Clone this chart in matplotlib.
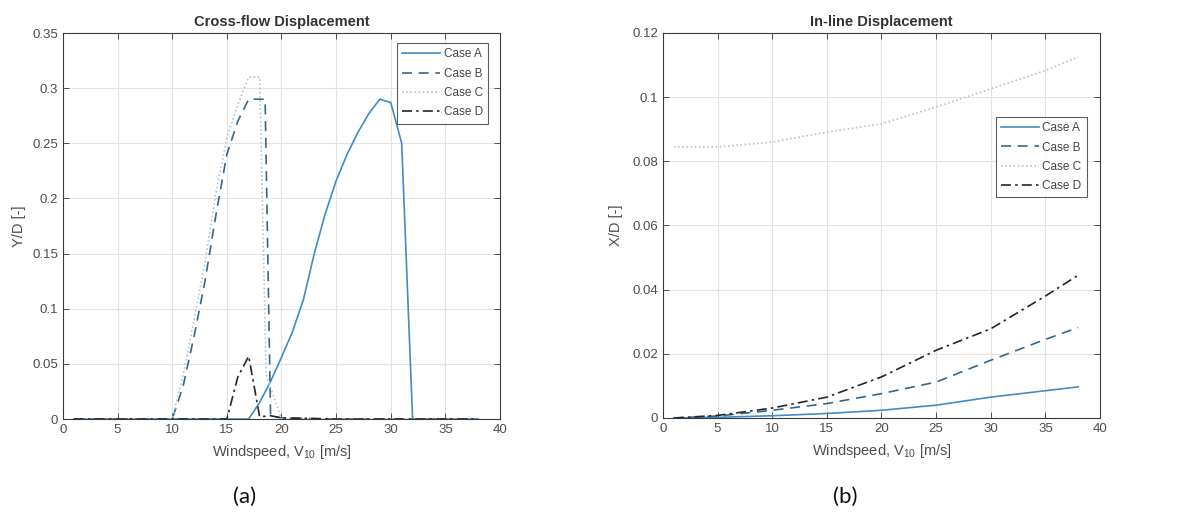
import matplotlib
matplotlib.use("Agg")
import matplotlib.pyplot as plt

plt.rcParams["font.family"] = ["Liberation Sans", "DejaVu Sans"]
plt.rcParams["mathtext.fontset"] = "custom"
plt.rcParams["mathtext.rm"] = "Liberation Sans"
plt.rcParams["mathtext.it"] = "Liberation Sans"

# ---- Cross-flow displacement (Y/D) ----
cf_x_a = [1, 5, 10, 15, 17, 18, 19, 20, 21, 22, 23, 24, 25, 26, 27, 28, 29, 30, 31, 32, 35, 38]
cf_y_a = [0, 0, 0, 0, 0, 0.015, 0.034, 0.056, 0.079, 0.108, 0.15, 0.186, 0.216, 0.24, 0.26, 0.277, 0.29, 0.287, 0.25, 0.0, 0.0, 0.0]

cf_x_b = [1, 5, 10, 11, 12, 13, 14, 15, 16, 17, 18, 18.5, 19, 20, 25, 30, 35, 38]
cf_y_b = [0, 0, 0, 0.03, 0.075, 0.125, 0.185, 0.24, 0.27, 0.29, 0.29, 0.29, 0.003, 0.001, 0, 0, 0, 0]

cf_x_c = [1, 5, 10, 11, 12, 13, 14, 15, 16, 17, 18, 18.6, 20, 25, 30, 35, 38]
cf_y_c = [0, 0, 0, 0.04, 0.09, 0.142, 0.205, 0.255, 0.285, 0.31, 0.31, 0.04, 0, 0, 0, 0, 0]

cf_x_d = [1, 5, 10, 15, 16, 17, 18, 19, 20, 25, 30, 35, 38]
cf_y_d = [0, 0, 0, 0, 0.038, 0.057, 0.002, 0.003, 0.001, 0, 0, 0, 0]

# ---- In-line displacement (X/D) ----
il_x = [1, 5, 10, 15, 20, 25, 30, 35, 38]
il_y_a = [0.0, 0.0002, 0.0007, 0.0014, 0.0024, 0.004, 0.0065, 0.0085, 0.0097]
il_y_b = [0.0, 0.0006, 0.0024, 0.0045, 0.0076, 0.0112, 0.018, 0.0245, 0.0282]
il_y_c = [0.0845, 0.0845, 0.086, 0.0891, 0.0917, 0.0969, 0.1026, 0.1083, 0.1125]
il_y_d = [0.0, 0.0008, 0.0031, 0.0065, 0.0128, 0.0211, 0.0278, 0.038, 0.0445]

case_labels = ["Case A", "Case B", "Case C", "Case D"]
colors = ["#3f8cc8", "#35668e", "#b9c2cc", "#262626"]
styles = ["-", (0, (6, 4)), (0, (1, 1.5)), (0, (6, 2.5, 1.5, 2.5))]

x_ticks = [0, 5, 10, 15, 20, 25, 30, 35, 40]
cf_ticks = [0, 0.05, 0.1, 0.15, 0.2, 0.25, 0.3, 0.35]
cf_ticklabels = ["0", "0.05", "0.1", "0.15", "0.2", "0.25", "0.3", "0.35"]
il_ticks = [0, 0.02, 0.04, 0.06, 0.08, 0.1, 0.12]
il_ticklabels = ["0", "0.02", "0.04", "0.06", "0.08", "0.1", "0.12"]

fig = plt.figure(figsize=(11.79, 5.12), dpi=100)
ax1 = fig.add_axes([0.0534, 0.1816, 0.3707, 0.7539])
ax2 = fig.add_axes([0.5623, 0.1836, 0.3707, 0.7520])

txt_col = "#4d4d4d"


def style_axes(ax, yticks, yticklabels, ylim, title, ylabel, ylabel_x):
    ax.set_xlim(0, 40)
    ax.set_ylim(*ylim)
    ax.set_xticks(x_ticks)
    ax.set_xticklabels([str(t) for t in x_ticks])
    ax.set_yticks(yticks)
    ax.set_yticklabels(yticklabels)
    ax.grid(True, color="#e3e3e3", linewidth=0.8)
    ax.set_axisbelow(True)
    ax.tick_params(direction="in", top=True, right=True, length=4,
                   labelsize=9.5, colors=txt_col, width=0.7)
    for s in ax.spines.values():
        s.set_color("#3a3a3a")
        s.set_linewidth(0.8)
    ax.set_title(title, fontsize=10.5, fontweight="bold", color="#333333", pad=5)
    ax.set_ylabel(ylabel, fontsize=10.5, color=txt_col)
    ax.yaxis.set_label_coords(ylabel_x, 0.5)
    ax.set_xlabel("Windspeed, V$_{10}$ [m/s]", fontsize=10.5, color=txt_col, labelpad=5)


cf_data = [(cf_x_a, cf_y_a), (cf_x_b, cf_y_b), (cf_x_c, cf_y_c), (cf_x_d, cf_y_d)]
for (xs, ys), lab, c, ls in zip(cf_data, case_labels, colors, styles):
    ax1.plot(xs, ys, color=c, linestyle=ls, linewidth=1.2, label=lab)

il_data = [il_y_a, il_y_b, il_y_c, il_y_d]
for ys, lab, c, ls in zip(il_data, case_labels, colors, styles):
    ax2.plot(il_x, ys, color=c, linestyle=ls, linewidth=1.2, label=lab)

style_axes(ax1, cf_ticks, cf_ticklabels, (0, 0.35), "Cross-flow Displacement", "Y/D [-]", -0.085)
style_axes(ax2, il_ticks, il_ticklabels, (0, 0.12), "In-line Displacement", "X/D [-]", -0.092)

leg_kw = dict(fontsize=8.5, frameon=True, fancybox=False, edgecolor="#333333",
              handlelength=3.2, handletextpad=0.3, borderpad=0.45,
              labelspacing=0.62, borderaxespad=0.0)
leg1 = ax1.legend(loc="upper right", bbox_to_anchor=(0.9725, 0.974), **leg_kw)
leg2 = ax2.legend(loc="upper right", bbox_to_anchor=(0.97, 0.782), **leg_kw)
for leg in (leg1, leg2):
    leg.get_frame().set_linewidth(0.8)
    for t in leg.get_texts():
        t.set_color("#444444")

fig.text(245 / 1179, 1 - 497 / 512, "(a)", ha="center", va="center",
         fontsize=16, family=["Lato", "DejaVu Sans"], color="#111111")
fig.text(845 / 1179, 1 - 497 / 512, "(b)", ha="center", va="center",
         fontsize=16, family=["Lato", "DejaVu Sans"], color="#111111")

fig.savefig("out.png", dpi=100, facecolor="white")
